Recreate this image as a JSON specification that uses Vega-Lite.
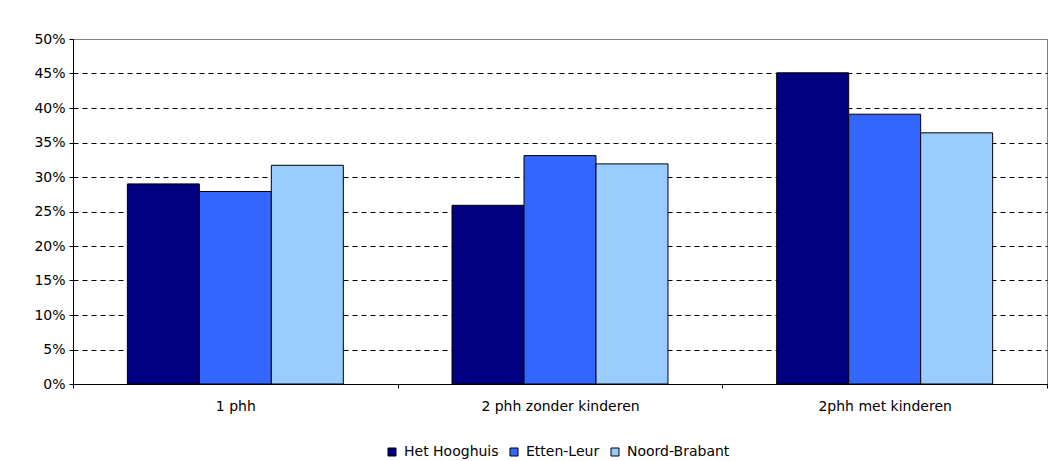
{
  "$schema": "https://vega.github.io/schema/vega-lite/v6.json",
  "width": 974,
  "height": 345,
  "autosize": {"type": "none"},
  "padding": {"left": 73, "top": 39, "right": 3, "bottom": 77},
  "background": "white",
  "config": {
    "font": "DejaVu Sans",
    "view": {"stroke": "#808080", "strokeWidth": 1},
    "axis": {"labelFont": "DejaVu Sans", "labelFontSize": 14, "labelColor": "#000000", "titleFont": "DejaVu Sans"},
    "legend": {"labelFont": "DejaVu Sans", "labelFontSize": 14, "labelColor": "#000000"}
  },
  "data": {
    "values": [
      {"cat": "1 phh", "reg": "Het Hooghuis", "v": 0.29},
      {"cat": "1 phh", "reg": "Etten-Leur", "v": 0.279},
      {"cat": "1 phh", "reg": "Noord-Brabant", "v": 0.317},
      {"cat": "2 phh zonder kinderen", "reg": "Het Hooghuis", "v": 0.259},
      {"cat": "2 phh zonder kinderen", "reg": "Etten-Leur", "v": 0.331},
      {"cat": "2 phh zonder kinderen", "reg": "Noord-Brabant", "v": 0.319},
      {"cat": "2phh met kinderen", "reg": "Het Hooghuis", "v": 0.451},
      {"cat": "2phh met kinderen", "reg": "Etten-Leur", "v": 0.391},
      {"cat": "2phh met kinderen", "reg": "Noord-Brabant", "v": 0.364}
    ]
  },
  "mark": {"type": "bar", "stroke": "#000000", "strokeWidth": 1},
  "encoding": {
    "x": {
      "field": "cat",
      "type": "nominal",
      "sort": null,
      "scale": {"paddingInner": 0, "paddingOuter": 0},
      "axis": {
        "title": null,
        "labelAngle": 0,
        "tickBand": "extent",
        "tickSize": 4,
        "tickColor": "#000000",
        "domainColor": "#000000",
        "labelPadding": 11,
        "grid": false
      }
    },
    "xOffset": {
      "field": "reg",
      "type": "nominal",
      "sort": ["Het Hooghuis", "Etten-Leur", "Noord-Brabant"],
      "scale": {"paddingInner": 0, "paddingOuter": 0.755}
    },
    "y": {
      "field": "v",
      "type": "quantitative",
      "scale": {"domain": [0, 0.5], "nice": false},
      "axis": {
        "title": null,
        "format": ".0%",
        "values": [0, 0.05, 0.1, 0.15, 0.2, 0.25, 0.3, 0.35, 0.4, 0.45, 0.5],
        "tickSize": 4,
        "tickColor": "#000000",
        "domainColor": "#000000",
        "labelPadding": 4,
        "grid": true,
        "gridColor": {"condition": {"test": "datum.value >= 0.5", "value": "#808080"}, "value": "#000000"},
        "gridDash": {"condition": {"test": "datum.value >= 0.5", "value": []}, "value": [5, 4]},
        "gridWidth": 1
      }
    },
    "color": {
      "field": "reg",
      "type": "nominal",
      "sort": ["Het Hooghuis", "Etten-Leur", "Noord-Brabant"],
      "scale": {"domain": ["Het Hooghuis", "Etten-Leur", "Noord-Brabant"], "range": ["#000080", "#3366FF", "#99CCFF"]},
      "legend": {
        "title": null,
        "orient": "none",
        "legendX": 312,
        "legendY": 406,
        "direction": "horizontal",
        "symbolType": "square",
        "symbolSize": 64,
        "symbolStrokeColor": "#000000",
        "symbolStrokeWidth": 1,
        "labelOffset": 5,
        "columnPadding": 8
      }
    }
  }
}
